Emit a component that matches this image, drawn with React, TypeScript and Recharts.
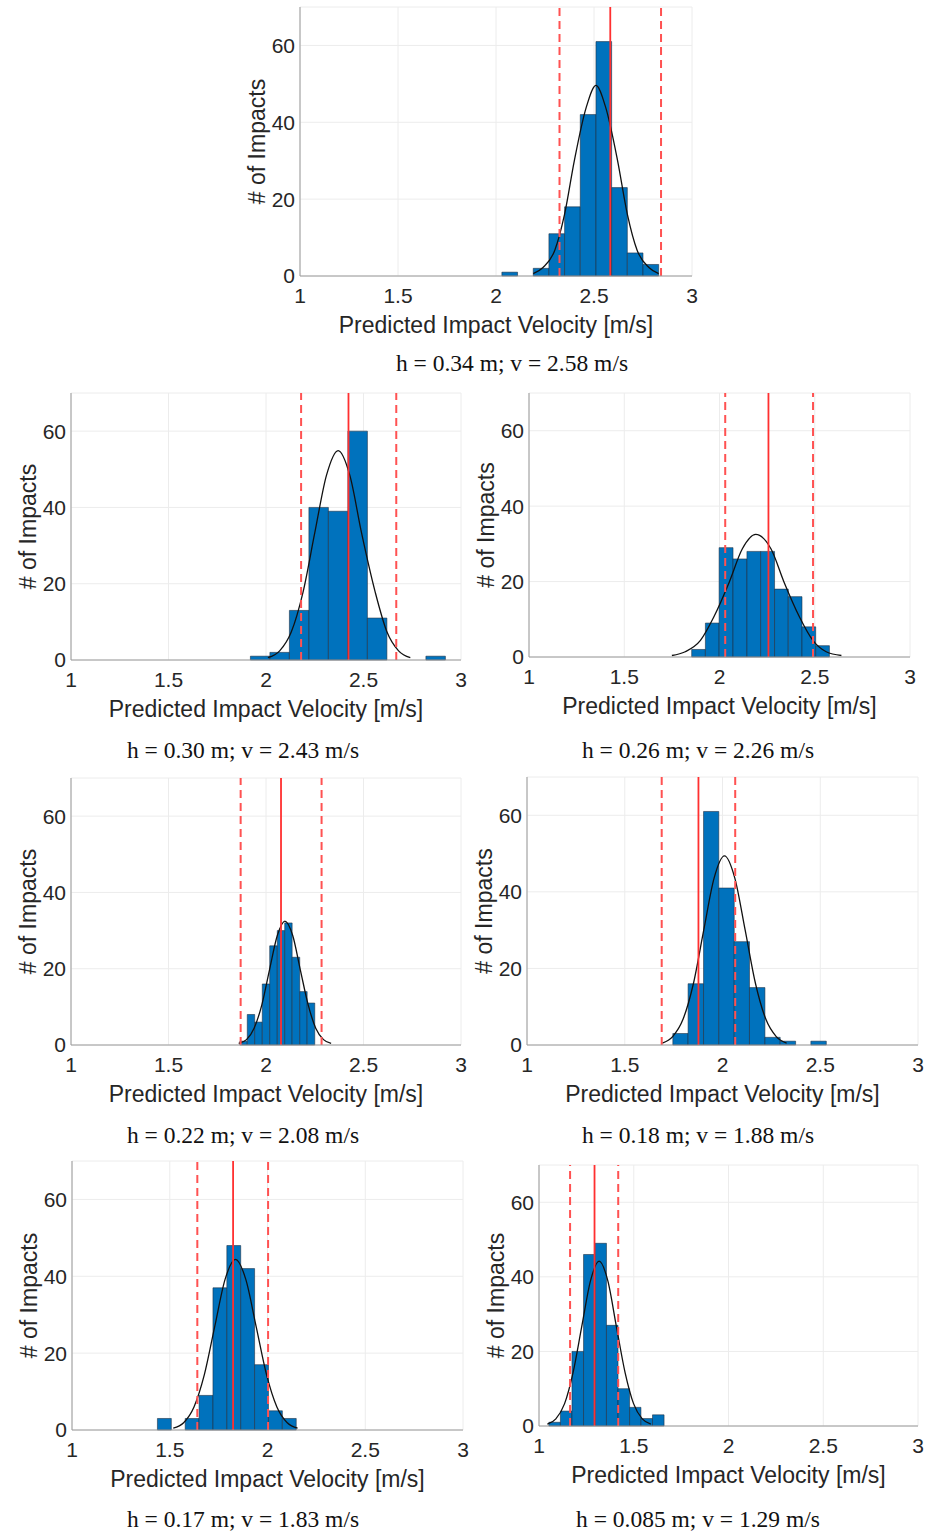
import {CartesianGrid, ComposedChart, Label, Line, ReferenceArea, ReferenceLine, XAxis, YAxis} from 'recharts';

const xTicks = [1, 1.5, 2, 2.5, 3];
const yTicks = [0, 20, 40, 60];

// h = 0.34 m
const edges034 = [2.03, 2.11, 2.19, 2.27, 2.35, 2.43, 2.51, 2.59, 2.67, 2.75, 2.83];
const counts034 = [1, 0, 2, 11, 18, 42, 61, 23, 6, 3];
const fitX034 = [2.19, 2.24, 2.3, 2.35, 2.4, 2.46, 2.51, 2.56, 2.62, 2.67, 2.72, 2.78, 2.83];
const fitY034 = [0.6, 2.2, 6.7, 16.1, 30.1, 43.8, 49.6, 43.8, 30.1, 16.1, 6.7, 2.2, 0.6];
const marks034 = [2.324, 2.583, 2.842];

// h = 0.30 m
const edges030 = [1.92, 2.02, 2.12, 2.22, 2.32, 2.42, 2.52, 2.62, 2.72, 2.82, 2.92];
const counts030 = [1, 2, 13, 40, 39, 60, 11, 0, 0, 1];
const fitX030 = [2.01, 2.07, 2.13, 2.19, 2.25, 2.31, 2.37, 2.43, 2.49, 2.56, 2.62, 2.68, 2.74];
const fitY030 = [0.6, 2.4, 7.4, 17.8, 33.3, 48.4, 54.9, 48.4, 33.3, 17.8, 7.4, 2.4, 0.6];
const marks030 = [2.18, 2.423, 2.668];

// h = 0.26 m
const edges026 = [1.854, 1.926, 1.998, 2.071, 2.144, 2.216, 2.289, 2.361, 2.433, 2.505, 2.577];
const counts026 = [2, 9, 29, 26, 28, 28, 18, 16, 8, 3];
const fitX026 = [1.75, 1.82, 1.9, 1.97, 2.05, 2.12, 2.19, 2.27, 2.34, 2.42, 2.49, 2.56, 2.64];
const fitY026 = [0.4, 1.4, 4.4, 10.6, 19.7, 28.7, 32.5, 28.7, 19.7, 10.6, 4.4, 1.4, 0.4];
const marks026 = [2.03, 2.257, 2.491];

// h = 0.22 m
const edges022 = [1.866, 1.904, 1.942, 1.981, 2.019, 2.058, 2.096, 2.134, 2.173, 2.211, 2.25];
const counts022 = [1, 8, 6, 16, 26, 30, 32, 23, 14, 11];
const fitX022 = [1.86, 1.9, 1.939, 1.979, 2.018, 2.058, 2.097, 2.137, 2.176, 2.216, 2.255, 2.295, 2.334];
const fitY022 = [0.4, 1.4, 4.4, 10.6, 19.7, 28.7, 32.5, 28.7, 19.7, 10.6, 4.4, 1.4, 0.4];
const marks022 = [1.87, 2.077, 2.285];

// h = 0.18 m
const edges018 = [1.746, 1.824, 1.903, 1.981, 2.06, 2.138, 2.217, 2.295, 2.374, 2.452, 2.531];
const counts018 = [3, 16, 61, 41, 27, 15, 2, 1, 0, 1];
const fitX018 = [1.692, 1.745, 1.798, 1.851, 1.904, 1.957, 2.01, 2.063, 2.116, 2.169, 2.222, 2.275, 2.328];
const fitY018 = [0.5, 2.2, 6.7, 16.0, 30.0, 43.6, 49.4, 43.6, 30.0, 16.0, 6.7, 2.2, 0.5];
const marks018 = [1.689, 1.877, 2.065];

// h = 0.17 m
const edges017 = [1.437, 1.508, 1.579, 1.65, 1.721, 1.792, 1.863, 1.934, 2.005, 2.076, 2.147];
const counts017 = [3, 0, 3, 9, 37, 48, 42, 17, 5, 3];
const fitX017 = [1.518, 1.571, 1.624, 1.677, 1.73, 1.783, 1.836, 1.889, 1.942, 1.995, 2.048, 2.101, 2.154];
const fitY017 = [0.5, 1.9, 6.0, 14.4, 26.9, 39.2, 44.4, 39.2, 26.9, 14.4, 6.0, 1.9, 0.5];
const marks017 = [1.641, 1.824, 2.003];

// h = 0.085 m
const edges0085 = [1.052, 1.113, 1.174, 1.235, 1.296, 1.356, 1.417, 1.478, 1.538, 1.599, 1.66];
const counts0085 = [1, 4, 20, 46, 49, 27, 10, 5, 2, 3];
const fitX0085 = [1.044, 1.089, 1.135, 1.18, 1.226, 1.272, 1.317, 1.363, 1.408, 1.454, 1.499, 1.545, 1.59];
const fitY0085 = [0.5, 1.9, 6.0, 14.4, 26.8, 39.0, 44.2, 39.0, 26.8, 14.4, 6.0, 1.9, 0.5];
const marks0085 = [1.164, 1.293, 1.418];

const captions = [
  'h = 0.34 m; v = 2.58 m/s',
  'h = 0.30 m; v = 2.43 m/s',
  'h = 0.26 m; v = 2.26 m/s',
  'h = 0.22 m; v = 2.08 m/s',
  'h = 0.18 m; v = 1.88 m/s',
  'h = 0.17 m; v = 1.83 m/s',
  'h = 0.085 m; v = 1.29 m/s',
];

const BLUE = '#0072BD';
const AXIS = '#9a9a9a';
const TEXT = '#262626';
const SANS = '"Liberation Sans", Arial, sans-serif';

type PanelProps = {
  box: number[]; // left, top, right, bottom of the axes box on the page
  edges: number[];
  counts: number[];
  fitX: number[];
  fitY: number[];
  marks: number[];
};

function Panel({box, edges, counts, fitX, fitY, marks}: PanelProps) {
  const [l, t, r, b] = box;
  const yW = 60;
  const xH = 75;
  const mT = 4;
  const mR = 16;
  const fit = fitX.map((v, i) => ({v, n: fitY[i]}));
  const tickStyle = {fontSize: 21, fill: TEXT, fontFamily: SANS};
  const titleStyle = {fontSize: 23, fill: TEXT, fontFamily: SANS};
  return (
    <div style={{position: 'absolute', left: l - yW, top: t - mT}}>
      <ComposedChart
        width={yW + (r - l) + mR}
        height={mT + (b - t) + xH}
        margin={{top: mT, right: mR, left: 0, bottom: 0}}
      >
        <CartesianGrid stroke="#ececec" />
        <XAxis
          dataKey="v"
          type="number"
          domain={[1, 3]}
          ticks={xTicks}
          allowDataOverflow
          height={xH}
          tickLine={false}
          tickMargin={6}
          stroke={AXIS}
          tick={tickStyle}
        >
          <Label value="Predicted Impact Velocity [m/s]" position="center" dy={11} style={titleStyle} />
        </XAxis>
        <XAxis xAxisId="top" orientation="top" type="number" domain={[1, 3]} height={0} tick={false} tickLine={false} stroke={AXIS} />
        <YAxis
          type="number"
          domain={[0, 70]}
          ticks={yTicks}
          allowDataOverflow
          width={yW}
          tickLine={false}
          tickSize={5}
          tickMargin={0}
          stroke={AXIS}
          tick={tickStyle}
        >
          <Label value="# of Impacts" position="center" angle={-90} dx={-13} style={titleStyle} />
        </YAxis>
        <YAxis yAxisId="right" orientation="right" type="number" domain={[0, 70]} width={0} tick={false} tickLine={false} stroke={AXIS} />
        {counts.map((c, i) =>
          c > 0 ? (
            <ReferenceArea
              key={i}
              x1={edges[i]}
              x2={edges[i + 1]}
              y1={0}
              y2={c}
              fill={BLUE}
              fillOpacity={1}
              stroke="#1d2b3d"
              strokeWidth={0.7}
              strokeOpacity={0.8}
            />
          ) : null,
        )}
        <Line
          data={fit}
          dataKey="n"
          type="monotone"
          stroke="#111"
          strokeWidth={1.3}
          dot={false}
          activeDot={false}
          isAnimationActive={false}
        />
        <ReferenceLine x={marks[0]} stroke="#ff5252" strokeWidth={2} strokeDasharray="8 5" />
        <ReferenceLine x={marks[1]} stroke="#ff3030" strokeWidth={1.8} />
        <ReferenceLine x={marks[2]} stroke="#ff5252" strokeWidth={2} strokeDasharray="8 5" />
      </ComposedChart>
    </div>
  );
}

function Caption({text, cx, cy}: {text: string; cx: number; cy: number}) {
  return (
    <div
      style={{
        position: 'absolute',
        left: cx - 200,
        top: cy - 16,
        width: 400,
        textAlign: 'center',
        fontFamily: '"Liberation Serif", serif',
        fontSize: 23.5,
        lineHeight: '32px',
        color: '#111',
      }}
    >
      {text}
    </div>
  );
}

export default function App() {
  return (
    <div style={{position: 'absolute', left: 0, top: 0, width: 927, height: 1533, background: '#fff'}}>
      <Panel box={[300, 7, 692, 276]} edges={edges034} counts={counts034} fitX={fitX034} fitY={fitY034} marks={marks034} />
      <Panel box={[71, 393, 461, 660]} edges={edges030} counts={counts030} fitX={fitX030} fitY={fitY030} marks={marks030} />
      <Panel box={[529, 393, 910, 657]} edges={edges026} counts={counts026} fitX={fitX026} fitY={fitY026} marks={marks026} />
      <Panel box={[71, 778, 461, 1045]} edges={edges022} counts={counts022} fitX={fitX022} fitY={fitY022} marks={marks022} />
      <Panel box={[527, 777, 918, 1045]} edges={edges018} counts={counts018} fitX={fitX018} fitY={fitY018} marks={marks018} />
      <Panel box={[72, 1161, 463, 1430]} edges={edges017} counts={counts017} fitX={fitX017} fitY={fitY017} marks={marks017} />
      <Panel box={[539, 1165, 918, 1426]} edges={edges0085} counts={counts0085} fitX={fitX0085} fitY={fitY0085} marks={marks0085} />
      <Caption text={captions[0]} cx={512} cy={363} />
      <Caption text={captions[1]} cx={243} cy={750} />
      <Caption text={captions[2]} cx={698} cy={750} />
      <Caption text={captions[3]} cx={243} cy={1135} />
      <Caption text={captions[4]} cx={698} cy={1135} />
      <Caption text={captions[5]} cx={243} cy={1519} />
      <Caption text={captions[6]} cx={698} cy={1519} />
    </div>
  );
}
